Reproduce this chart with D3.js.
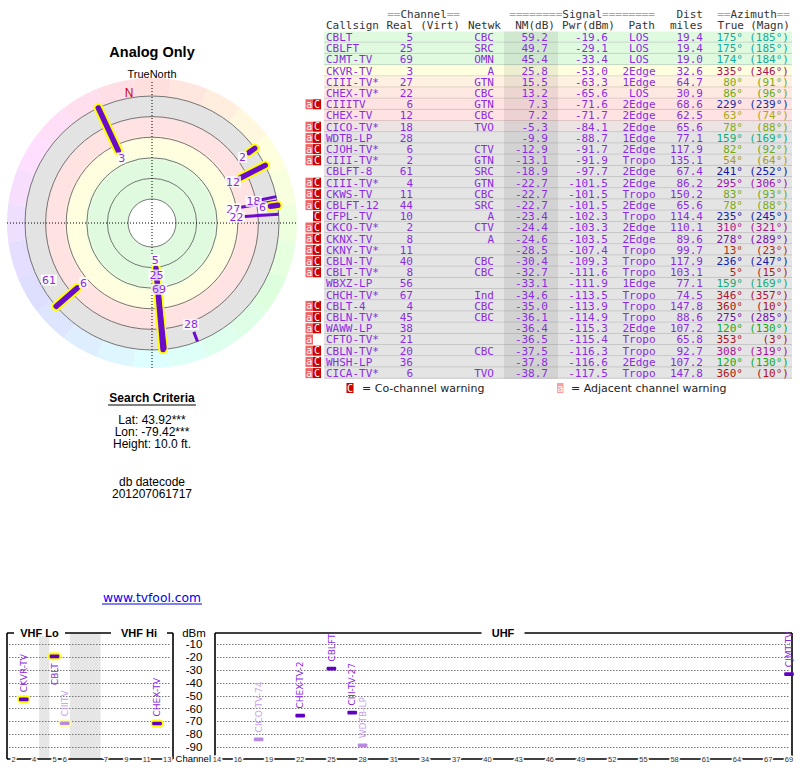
<!DOCTYPE html>
<html>
<head>
<meta charset="utf-8">
<script src="https://cdnjs.cloudflare.com/ajax/libs/d3/7.8.5/d3.min.js"></script>
<style>
  body { margin: 0; background: #fff; }
  svg { display: block; }
</style>
</head>
<body>
<div id="chart"></div>
<script>
// station table
const callsigns = ["CBLT","CBLFT","CJMT-TV","CKVR-TV","CIII-TV*","CHEX-TV*","CIIITV","CHEX-TV","CICO-TV*","WDTB-LP",
  "CJOH-TV*","CIII-TV*","CBLFT-8","CIII-TV*","CKWS-TV","CBLFT-12","CFPL-TV","CKCO-TV*","CKNX-TV","CKNY-TV*",
  "CBLN-TV","CBLT-TV*","WBXZ-LP","CHCH-TV*","CBLT-4","CBLN-TV*","WAWW-LP","CFTO-TV*","CBLN-TV*","WHSH-LP","CICA-TV*"];
const realCh = [5,25,69,3,27,22,6,12,18,28, 6,2,61,4,11,44,10,2,8,11, 40,8,56,67,4,45,38,21,20,36,6];
const networks = ["CBC","SRC","OMN","A","GTN","CBC","GTN","CBC","TVO","",
  "CTV","GTN","SRC","GTN","CBC","SRC","A","CTV","A","",
  "CBC","CBC","","Ind","CBC","CBC","","","CBC","","TVO"];
const nmDb = [59.2,49.7,45.4,25.8,15.5,13.2,7.3,7.2,-5.3,-9.9,
  -12.9,-13.1,-18.9,-22.7,-22.7,-22.7,-23.4,-24.4,-24.6,-28.5,
  -30.4,-32.7,-33.1,-34.6,-35.0,-36.1,-36.4,-36.5,-37.5,-37.8,-38.7];
const pwrDbm = [-19.6,-29.1,-33.4,-53.0,-63.3,-65.6,-71.6,-71.7,-84.1,-88.7,
  -91.7,-91.9,-97.7,-101.5,-101.5,-101.5,-102.3,-103.3,-103.5,-107.4,
  -109.3,-111.6,-111.9,-113.5,-113.9,-114.9,-115.3,-115.4,-116.3,-116.6,-117.5];
const paths = ["LOS","LOS","LOS","2Edge","1Edge","LOS","2Edge","2Edge","2Edge","1Edge",
  "2Edge","Tropo","2Edge","2Edge","Tropo","2Edge","Tropo","2Edge","2Edge","Tropo",
  "Tropo","Tropo","1Edge","Tropo","Tropo","Tropo","2Edge","Tropo","Tropo","2Edge","Tropo"];
const distMi = [19.4,19.4,19.0,32.6,64.7,30.9,68.6,62.5,65.6,77.1,
  117.9,135.1,67.4,86.2,150.2,65.6,114.4,110.1,89.6,99.7,
  117.9,103.1,77.1,74.5,147.8,88.6,107.2,65.8,92.7,107.2,147.8];
const azTrue = [175,175,174,335,80,86,229,63,78,159, 82,54,241,295,83,78,235,310,278,13, 236,5,159,346,360,275,120,353,308,120,360];
const azMagn = [185,185,184,346,91,96,239,74,88,169, 92,64,252,306,93,88,245,321,289,23, 247,15,169,357,10,285,130,3,319,130,10];
const warnings = ["","","","","","","aC","","aC","aC", "aC","aC","","aC","aC","aC","C","aC","aC","aC",
  "aC","aC","","","aC","aC","aC","a","aC","aC","aC"];

// names used on the spectrum strip (first ten stations)
const spectrumNames = ["CBLT","CBLFT","CJMT-TV","CKVR-TV","CIII-TV-27","CHEX-TV-2","CIIITV","CHEX-TV","CICO-TV-74","WDTB-LP"];

const ringLevels = [80, 60, 40, 20, 0, -20];
const dbmTicks = [-10,-20,-30,-40,-50,-60,-70,-80,-90];
const vhfTicks = [2,4,5,6,7,9,11,13];
const uhfTicks = [14,16,19,22,25,28,31,34,37,40,43,46,49,52,55,58,61,64,67,69];

const purple = "#8a2be2", barPurple = "#6a0ccc";
const mono = "DejaVu Sans Mono, monospace";

const svg = d3.select('#chart').append('svg')
  .attr('width', 800).attr('height', 768)
  .style('font-family', 'Liberation Sans, Arial, sans-serif');
const defs = svg.append('defs');

// ---------------- polar plot ----------------
const cx = 152, cy = 223;
const rScale = d3.scaleLinear().domain([80, -20]).range([24, 127]);
const rad = a => a * Math.PI / 180;
const pt = (az, r) => [r * Math.sin(rad(az)), -r * Math.cos(rad(az))];

svg.append('text').attr('x', cx).attr('y', 57).attr('text-anchor', 'middle')
  .style('font-weight', 'bold').style('font-size', '14.5px').text('Analog Only');
svg.append('text').attr('x', cx).attr('y', 78).attr('text-anchor', 'middle')
  .style('font-size', '11px').text('TrueNorth');

const polar = svg.append('g').attr('transform', `translate(${cx},${cy})`);

// hue wheel around the edge
const arc = d3.arc().innerRadius(rScale(-20)).outerRadius(145);
polar.selectAll('.wedge').data(d3.range(0, 360, 15)).join('path')
  .attr('d', a => arc({startAngle: rad(a - 7.5), endAngle: rad(a + 7.5)}))
  .attr('fill', a => d3.hsl(a, 1, 0.935));

// signal bands
const bandStops = [[80,'#e0fae0'],[43,'#e0fae0'],[37,'#ffffe0'],[22.5,'#ffffe0'],[17.5,'#ffe2e2'],[2,'#ffe2e2'],[-2,'#e3e3e3'],[-20,'#e3e3e3']];
const grad = defs.append('radialGradient').attr('id', 'bands')
  .attr('gradientUnits', 'userSpaceOnUse').attr('cx', 0).attr('cy', 0).attr('r', rScale(-20));
grad.append('stop').attr('offset', 0).attr('stop-color', bandStops[0][1]);
bandStops.forEach(s => grad.append('stop').attr('offset', rScale(s[0]) / rScale(-20)).attr('stop-color', s[1]));
polar.append('circle').attr('r', rScale(-20)).attr('fill', 'url(#bands)');

polar.selectAll('.ring').data(ringLevels).join('circle')
  .attr('r', d => rScale(d))
  .attr('fill', d => d === 80 ? '#fff' : 'none')
  .attr('stroke', '#555').attr('stroke-width', 0.8);

// crosshair
polar.append('line').attr('x1', -145).attr('x2', 145).attr('y1', 0).attr('y2', 0)
  .attr('stroke', '#000').attr('stroke-dasharray', '1,2');
polar.append('line').attr('x1', 0).attr('x2', 0).attr('y1', -141).attr('y2', 145)
  .attr('stroke', '#000').attr('stroke-dasharray', '1,2');

// station bars: from signal margin out to the -20 dB ring
const polarIdx = d3.range(callsigns.length).filter(i => nmDb[i] >= -20);
polarIdx.forEach(i => {
  const p1 = pt(azTrue[i], rScale(nmDb[i])), p2 = pt(azTrue[i], rScale(-20));
  const vhf = realCh[i] <= 13;
  if (vhf) {
    polar.append('line').attr('x1', p1[0]).attr('y1', p1[1]).attr('x2', p2[0]).attr('y2', p2[1])
      .attr('stroke', '#ffff00').attr('stroke-width', 9.5).attr('stroke-linecap', 'round');
  }
  polar.append('line').attr('x1', p1[0]).attr('y1', p1[1]).attr('x2', p2[0]).attr('y2', p2[1])
    .attr('stroke', barPurple).attr('stroke-width', vhf ? 5.5 : 3)
    .attr('stroke-linecap', vhf ? 'round' : 'butt');
});

// channel labels, nudged outward when stacked on the same bearing
const placed = [];
polarIdx.forEach(i => {
  const txt = String(realCh[i]);
  const w = txt.length * 7 + 2, h = 14;
  let r = rScale(nmDb[i]) - 8, p = pt(azTrue[i], r);
  while (placed.some(q => Math.abs(q.az - azTrue[i]) < 3 &&
         Math.abs(q.x - p[0]) < (q.w + w) / 2 && Math.abs(q.y - p[1]) < h)) {
    r += 1; p = pt(azTrue[i], r);
  }
  placed.push({az: azTrue[i], x: p[0], y: p[1], w: w});
  polar.append('rect').attr('x', p[0] - w / 2).attr('y', p[1] - 5.5).attr('width', w).attr('height', 11)
    .attr('fill', '#fff').attr('opacity', 0.8);
  polar.append('text').attr('x', p[0]).attr('y', p[1]).attr('dy', '0.36em')
    .attr('text-anchor', 'middle').attr('fill', purple)
    .style('font-family', 'DejaVu Sans, sans-serif').style('font-size', '11px').text(txt);
});

// magnetic north marker
const decl = azTrue[0] - azMagn[0];
const np = pt(decl, 132);
polar.append('text').attr('x', np[0]).attr('y', np[1]).attr('dy', '0.36em').attr('text-anchor', 'middle')
  .attr('fill', '#cc0000').style('font-size', '12px').text('N');

// ---------------- search criteria ----------------
const info = svg.append('g').attr('text-anchor', 'middle').style('font-size', '12px');
info.append('text').attr('x', cx).attr('y', 402).style('font-weight', 'bold').text('Search Criteria');
info.append('line').attr('x1', 108).attr('x2', 196).attr('y1', 405).attr('y2', 405).attr('stroke', '#000');
info.append('text').attr('x', cx).attr('y', 424).text('Lat: 43.92***');
info.append('text').attr('x', cx).attr('y', 436).text('Lon: -79.42***');
info.append('text').attr('x', cx).attr('y', 448).text('Height: 10.0 ft.');
info.append('text').attr('x', cx).attr('y', 486).text('db datecode');
info.append('text').attr('x', cx).attr('y', 498).text('201207061717');
info.append('text').attr('x', cx).attr('y', 602).attr('fill', '#0000ee')
  .style('font-family', 'DejaVu Sans, sans-serif').style('font-size', '12.3px').text('www.tvfool.com');
info.append('line').attr('x1', 102).attr('x2', 202).attr('y1', 604).attr('y2', 604).attr('stroke', '#0000ee');

// ---------------- station table ----------------
const rowH = 11.2, rowTop = 31.5;
const rowY = i => rowTop + i * rowH;
const rowColor = d3.scaleLinear()
  .domain([-8, 1, 12, 19, 34, 42])
  .range(['#e4e4e4', '#ffe2e2', '#ffe2e2', '#ffffe0', '#ffffe0', '#e0fae0'])
  .clamp(true);
const azColor = a => d3.hsl(a % 360, 0.8, 0.37);

const table = svg.append('g').style('font-family', mono).style('font-size', '11px');

function head(x, y, anchor, parts) {
  const t = table.append('text').attr('x', x).attr('y', y).attr('text-anchor', anchor);
  parts.forEach(p => t.append('tspan').attr('fill', p[1]).text(p[0]));
}
const eq = '#a8a8a8', hd = '#333';
head(460, 17.5, 'end', [['==', eq], ['Channel', hd], ['==', eq]]);
head(655, 17.5, 'end', [['========', eq], ['Signal', hd], ['========', eq]]);
head(703, 17.5, 'end', [['Dist', hd]]);
head(790, 17.5, 'end', [['==', eq], ['Azimuth', hd], ['==', eq]]);
head(326, 28.5, 'start', [['Callsign', hd]]);
head(413, 28.5, 'end', [['Real', hd]]);
head(460, 28.5, 'end', [['(Virt)', hd]]);
head(501, 28.5, 'end', [['Netwk', hd]]);
head(555, 28.5, 'end', [['NM(dB)', hd]]);
head(615, 28.5, 'end', [['Pwr(dBm)', hd]]);
head(655, 28.5, 'end', [['Path', hd]]);
head(703, 28.5, 'end', [['miles', hd]]);
head(744, 28.5, 'end', [['True', hd]]);
head(790, 28.5, 'end', [['(Magn)', hd]]);

const idx = d3.range(callsigns.length);
table.selectAll('.row').data(idx).join('rect')
  .attr('x', 324).attr('y', i => rowY(i)).attr('width', 468).attr('height', rowH)
  .attr('fill', i => rowColor(nmDb[i]));
table.selectAll('.sep').data(idx).join('line')
  .attr('x1', 324).attr('x2', 792).attr('y1', i => rowY(i + 1) - 0.5).attr('y2', i => rowY(i + 1) - 0.5)
  .attr('stroke', '#000').attr('stroke-opacity', 0.14);
table.append('rect').attr('x', 504).attr('y', rowTop).attr('width', 54).attr('height', rowH * idx.length)
  .attr('fill', '#000').attr('opacity', 0.07);

const cols = [
  {x: 326, anchor: 'start', val: i => callsigns[i]},
  {x: 413, anchor: 'end', val: i => realCh[i]},
  {x: 494, anchor: 'end', val: i => networks[i]},
  {x: 548, anchor: 'end', val: i => nmDb[i].toFixed(1)},
  {x: 608, anchor: 'end', val: i => pwrDbm[i].toFixed(1)},
  {x: 639, anchor: 'middle', val: i => paths[i]},
  {x: 703, anchor: 'end', val: i => distMi[i].toFixed(1)}
];
cols.forEach(c => {
  table.selectAll(null).data(idx).join('text')
    .attr('x', c.x).attr('y', i => rowY(i) + rowH / 2 + 3.9)
    .attr('text-anchor', c.anchor).attr('fill', purple).text(c.val);
});
table.selectAll(null).data(idx).join('text')
  .attr('x', 743).attr('y', i => rowY(i) + rowH / 2 + 3.9).attr('text-anchor', 'end')
  .attr('fill', i => azColor(azTrue[i])).text(i => azTrue[i] + '°');
table.selectAll(null).data(idx).join('text')
  .attr('x', 789).attr('y', i => rowY(i) + rowH / 2 + 3.9).attr('text-anchor', 'end')
  .attr('fill', i => azColor(azTrue[i])).text(i => '(' + azMagn[i] + '°)');

// warning badges
function badge(g, x, y, w, h, letter, fill) {
  g.append('rect').attr('x', x).attr('y', y).attr('width', w).attr('height', h).attr('fill', fill);
  g.append('text').attr('x', x + w / 2).attr('y', y + h / 2 + 3.5).attr('text-anchor', 'middle')
    .attr('fill', '#fff').style('font-family', mono).style('font-size', '10px').text(letter);
}
idx.forEach(i => {
  const y = rowY(i) + 0.6, h = rowH - 1.2;
  if (warnings[i].includes('a')) badge(table, 305.5, y, 7.5, h, 'a', '#f06464');
  if (warnings[i].includes('C')) badge(table, 313, y, 8, h, 'C', '#cc0000');
});

// legend
const leg = svg.append('g').style('font-family', 'DejaVu Sans, sans-serif').style('font-size', '11px');
badge(leg, 346.5, 383, 7, 10, 'C', '#cc0000');
leg.append('text').attr('x', 362).attr('y', 392).attr('fill', '#222').text('= Co-channel warning');
badge(leg, 557, 383, 6.5, 10, 'a', '#f8a0a0');
leg.append('text').attr('x', 571).attr('y', 392).attr('fill', '#222').text('= Adjacent channel warning');

// ---------------- spectrum strip ----------------
const boxTop = 633, boxBot = 759;
const dbmY = d3.scaleLinear().domain([-10, -90]).range([644, 747]);
const vhfSlot = ch => ch <= 4 ? ch - 2 : (ch <= 6 ? ch - 1 : ch + 2);
const vhfX = d3.scaleLinear().domain([0, 15]).range([13.5, 167.25]);
const uhfX = d3.scaleLinear().domain([14, 69]).range([217, 789]);
const chX = ch => ch <= 13 ? vhfX(vhfSlot(ch)) : uhfX(ch);

const spec = svg.append('g');
// non-TV gaps inside the VHF band
[[2.5, 3.5], [5.5, 8.5]].forEach(g => {
  spec.append('rect').attr('x', vhfX(g[0])).attr('y', boxTop).attr('width', vhfX(g[1]) - vhfX(g[0]))
    .attr('height', boxBot - boxTop).attr('fill', '#e6e6e6');
});

// dotted grid
[[9, 171], [217, 790]].forEach(p => {
  spec.selectAll(null).data(dbmTicks).join('line')
    .attr('x1', p[0]).attr('x2', p[1]).attr('y1', d => Math.round(dbmY(d)) + 0.5).attr('y2', d => Math.round(dbmY(d)) + 0.5)
    .attr('stroke', '#777').attr('stroke-dasharray', '1.5,1.5');
});

// frames
function frame(x0, x1, titles) {
  const g = spec.append('g').attr('stroke', '#000').attr('stroke-width', 1.6);
  g.append('line').attr('x1', x0).attr('x2', x0).attr('y1', boxTop).attr('y2', boxBot);
  g.append('line').attr('x1', x1).attr('x2', x1).attr('y1', boxTop).attr('y2', boxBot);
  g.append('line').attr('x1', x0).attr('x2', x1).attr('y1', boxBot).attr('y2', boxBot);
  g.append('line').attr('x1', x0).attr('x2', x1).attr('y1', boxTop).attr('y2', boxTop);
  titles.forEach(t => {
    spec.append('rect').attr('x', t.x - t.w / 2).attr('y', boxTop - 3).attr('width', t.w).attr('height', 6).attr('fill', '#fff');
    spec.append('text').attr('x', t.x).attr('y', boxTop + 4).attr('text-anchor', 'middle')
      .style('font-weight', 'bold').style('font-size', '11px').text(t.label);
  });
}
frame(7, 173, [{label: 'VHF Lo', x: 39.5, w: 51}, {label: 'VHF Hi', x: 139, w: 56}]);
frame(215, 792, [{label: 'UHF', x: 503, w: 43}]);

// axis labels
spec.append('text').attr('x', 194).attr('y', boxTop + 4).attr('text-anchor', 'middle').style('font-size', '11.5px').text('dBm');
spec.selectAll(null).data(dbmTicks).join('text')
  .attr('x', 194).attr('y', d => dbmY(d)).attr('dy', '0.36em').attr('text-anchor', 'middle')
  .style('font-size', '11.5px').text(d => d);
spec.append('text').attr('x', 211).attr('y', boxBot).attr('dy', '0.36em').attr('text-anchor', 'end')
  .style('font-size', '9.5px').text('Channel');
spec.selectAll(null).data(vhfTicks.concat(uhfTicks)).join('text')
  .attr('x', d => chX(d)).attr('y', boxBot).attr('dy', '0.36em').attr('text-anchor', 'middle')
  .attr('fill', '#333').attr('stroke', '#fff').attr('stroke-width', 3).attr('paint-order', 'stroke')
  .style('font-size', '7.5px').text(d => d);

// station markers (strongest ten, above -90 dBm)
const specIdx = d3.range(spectrumNames.length);
specIdx.forEach(i => {
  const x = chX(realCh[i]), y = dbmY(pwrDbm[i]);
  const faint = warnings[i].includes('C');
  if (realCh[i] <= 13) {
    spec.append('rect').attr('x', x - 6.5).attr('y', y - 4).attr('width', 13).attr('height', 8).attr('rx', 4)
      .attr('fill', faint ? '#ffffa8' : '#ffff00');
  }
  spec.append('rect').attr('x', x - 4.8).attr('y', y - 1.8).attr('width', 9.6).attr('height', 3.6).attr('rx', 1)
    .attr('fill', faint ? '#b98ae0' : '#6000c0');
  const label = spec.append('text')
    .attr('dy', '0.35em').attr('fill', faint ? '#c8a0f0' : purple)
    .style('font-family', 'DejaVu Sans, sans-serif').style('font-size', '9px').text(spectrumNames[i]);
  // goes below the marker when there is no room above it
  const len = label.node().getComputedTextLength();
  const above = y - 7 - len >= boxTop - 5;
  label.attr('text-anchor', above ? 'start' : 'end')
    .attr('transform', `translate(${x},${above ? y - 7 : y + 7}) rotate(-90)`);
});
</script>
</body>
</html>
